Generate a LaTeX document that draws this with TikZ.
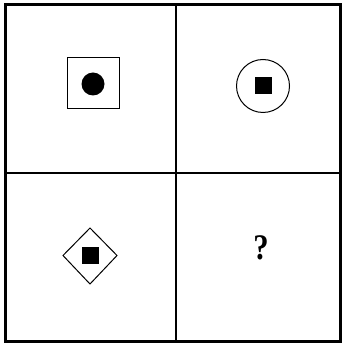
\documentclass[tikz,border=0pt]{standalone}
\usepackage{fontspec}
\setmainfont{Liberation Serif}
\begin{document}
\begin{tikzpicture}[x=1pt,y=-1pt,
  frame/.style={line width=3pt},
  divider/.style={line width=1.5pt},
  outline/.style={line width=1pt},
  fillsq/.style={fill=black}]
\useasboundingbox (0,0) rectangle (343,344);
\fill[white] (0,0) rectangle (343,344);
% grid
\coordinate (tl) at (5,5);
\coordinate (br) at (340,341);
\coordinate (vt) at (176,5);
\coordinate (vb) at (176,341);
\coordinate (hl) at (5,173);
\coordinate (hr) at (340,173);
\draw[divider] (vt) -- (vb);
\draw[divider] (hl) -- (hr);
\draw[frame] (tl) rectangle (br);
% top-left: square with dot
\draw[outline] (67,58) rectangle (119,109);
\fill (93,84) circle (11.5);
% top-right: circle with square
\draw[outline] (263,86) circle (26.5);
\fill (254.5,77.5) rectangle (271.5,94.5);
% bottom-left: diamond with square
\draw[outline] (63,255.5) -- (90,228) -- (117,255.5) -- (90,284) -- cycle;
\fill (82,247) rectangle (99,264);
% bottom-right: question mark
\node[font=\fontsize{36}{36}\selectfont\bfseries,xscale=0.85] (q) at (261,248) {?};
\end{tikzpicture}
\end{document}
